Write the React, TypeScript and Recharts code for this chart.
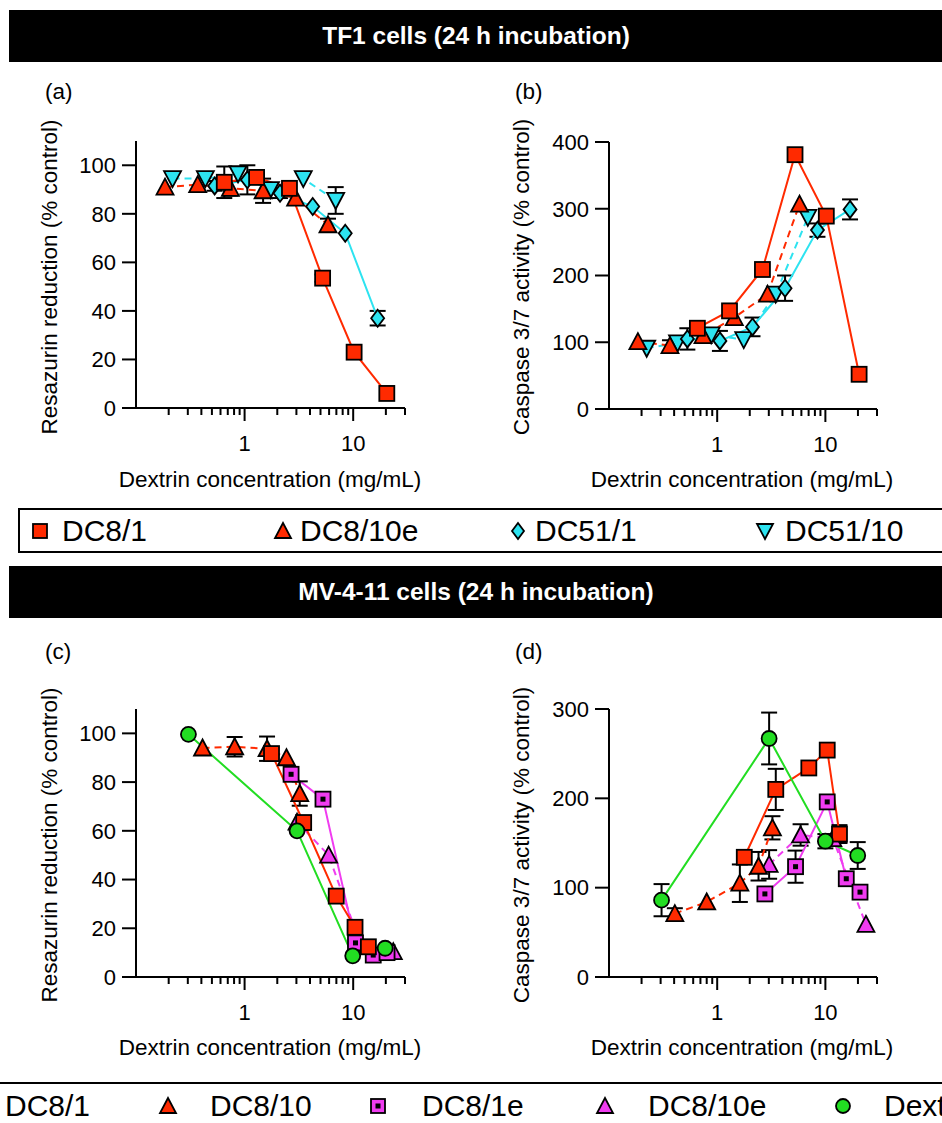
import React from 'react';
import { LineChart, Line, XAxis, YAxis, ErrorBar } from 'recharts';

// ---- colours & fonts ----
const RED = '#FF2A00';
const CYAN = '#2DE3F0';
const MAGENTA = '#F03CF0';
const GREEN = '#22DD22';
const FONT = '"Liberation Sans", Arial, sans-serif';

// ---- axes ----
const X_TICKS = [0.2, 0.3, 0.4, 0.5, 0.6, 0.7, 0.8, 0.9, 1, 2, 3, 4, 5, 6, 7, 8, 9, 10, 20, 30];
const X_MAJOR = [1, 10];
const Y_TICKS_RES = [0, 20, 40, 60, 80, 100];
const Y_TICKS_CASP_TF1 = [0, 100, 200, 300, 400];
const Y_TICKS_CASP_MV = [0, 100, 200, 300];

// ---- (a) TF1 resazurin ----
const A_DC8_1_X = [0.65, 1.29, 2.59, 5.23, 10.2, 20.4];
const A_DC8_1_Y = [93, 95, 90.5, 53.5, 23, 6];
const A_DC8_1_E = [6.5, 0, 0, 1.5, 0, 0];
const A_DC8_10E_X = [0.185, 0.37, 0.74, 1.48, 2.95, 5.86];
const A_DC8_10E_Y = [91, 92, 90.5, 89.5, 86.5, 75.5];
const A_DC8_10E_E = [0, 0, 3, 5, 0, 2.5];
const A_DC51_1_X = [0.53, 1.06, 2.12, 4.24, 8.45, 16.8];
const A_DC51_1_Y = [91.5, 94, 88.5, 83, 72, 37];
const A_DC51_1_E = [2, 6, 2, 0, 0, 3];
const A_DC51_10_X = [0.217, 0.435, 0.87, 1.73, 3.47, 6.9];
const A_DC51_10_Y = [94.5, 94.5, 96.5, 90, 94.5, 85.5];
const A_DC51_10_E = [0, 0, 0, 0, 0, 5.5];

// ---- (b) TF1 caspase ----
const B_DC8_1_X = [0.656, 1.3, 2.62, 5.24, 10.2, 20.5];
const B_DC8_1_Y = [121, 147, 209, 381, 289, 52];
const B_DC8_1_E = [0, 0, 0, 0, 0, 0];
const B_DC8_10E_X = [0.185, 0.366, 0.74, 1.44, 2.92, 5.77];
const B_DC8_10E_Y = [101, 95, 110, 137, 172, 307];
const B_DC8_10E_E = [0, 8, 0, 0, 0, 0];
const B_DC51_1_X = [0.53, 1.06, 2.12, 4.24, 8.45, 16.9];
const B_DC51_1_Y = [105, 102, 123, 181, 268, 299];
const B_DC51_1_E = [16, 15, 14, 19, 10, 15];
const B_DC51_10_X = [0.223, 0.43, 0.88, 1.76, 3.47, 6.88];
const B_DC51_10_Y = [91, 99, 111, 104, 172, 287];
const B_DC51_10_E = [0, 0, 0, 0, 0, 0];

// ---- (c) MV-4-11 resazurin ----
const C_DEX_X = [0.304, 3.04, 9.9, 19.7];
const C_DEX_Y = [99.6, 60, 8.7, 11.8];
const C_DEX_E = [0, 0, 0, 0];
const C_DC8_1_X = [1.77, 3.5, 6.98, 10.4, 13.8];
const C_DC8_1_Y = [91.7, 63.4, 33.2, 20.4, 12.4];
const C_DC8_1_E = [0, 0, 0, 0, 0];
const C_DC8_10_X = [0.41, 0.81, 1.61, 2.43, 3.22];
const C_DC8_10_Y = [94, 94.5, 93.7, 90, 75.3];
const C_DC8_10_E = [0, 4, 5, 0, 5];
const C_DC8_1E_X = [2.68, 5.27, 10.5, 15.3, 20.5];
const C_DC8_1E_Y = [83.2, 73, 14, 9, 10];
const C_DC8_1E_E = [0, 0, 0, 0, 0];
const C_DC8_10E_X = [3.04, 5.94, 11.6, 23.4];
const C_DC8_10E_Y = [63.6, 50, 13.8, 10.4];
const C_DC8_10E_E = [0, 0, 0, 0];

// ---- (d) MV-4-11 caspase ----
const D_DEX_X = [0.306, 3.02, 10, 19.9];
const D_DEX_Y = [86, 267, 152, 136];
const D_DEX_E = [18, 29, 8, 15];
const D_DC8_1_X = [1.78, 3.48, 7.03, 10.4, 13.5];
const D_DC8_1_Y = [134, 210, 234, 254, 160];
const D_DC8_1_E = [0, 23, 0, 0, 10];
const D_DC8_10_X = [0.406, 0.8, 1.62, 2.41, 3.24];
const D_DC8_10_Y = [71, 84, 105, 124, 167];
const D_DC8_10_E = [6, 0, 21, 16, 13];
const D_DC8_1E_X = [2.76, 5.3, 10.4, 15.6, 20.9];
const D_DC8_1E_Y = [93, 123.5, 196, 110, 95];
const D_DC8_1E_E = [0, 18, 0, 0, 0];
const D_DC8_10E_X = [3.02, 5.9, 11.7, 23.7];
const D_DC8_10E_Y = [126, 159, 155, 59];
const D_DC8_10E_E = [16, 12, 0, 0];

// ---- legends ----
const LEGEND_TF1 = ['DC8/1', 'DC8/10e', 'DC51/1', 'DC51/10'];
const LEGEND_MV = ['DC8/1', 'DC8/10', 'DC8/1e', 'DC8/10e', 'Dextrin'];

type Shape = 'square' | 'squareDot' | 'triangle' | 'triangleDown' | 'diamond' | 'circle';

interface Series {
  name: string;
  shape: Shape;
  color: string;
  dashed?: boolean;
  data: { x: number; y: number; e?: number }[];
}

function pts(xs: number[], ys: number[], es: number[]) {
  return xs.map((x, i) => ({ x, y: ys[i], e: es[i] ? es[i] : undefined }));
}

function Marker({ cx, cy, shape, color, size = 15 }: { cx: number; cy: number; shape: Shape; color: string; size?: number }) {
  const h = size / 2;
  const sw = 1.8;
  switch (shape) {
    case 'square':
      return <rect x={cx - h} y={cy - h} width={size} height={size} fill={color} stroke="#000" strokeWidth={sw} />;
    case 'squareDot':
      return (
        <g>
          <rect x={cx - h} y={cy - h} width={size} height={size} fill={color} stroke="#000" strokeWidth={sw} />
          <rect x={cx - 2.5} y={cy - 2.5} width={5} height={5} fill="#000" />
        </g>
      );
    case 'triangle':
      return <polygon points={`${cx},${cy - h - 1} ${cx + h + 1},${cy + h} ${cx - h - 1},${cy + h}`} fill={color} stroke="#000" strokeWidth={sw} />;
    case 'triangleDown':
      return <polygon points={`${cx},${cy + h + 1} ${cx + h + 1},${cy - h} ${cx - h - 1},${cy - h}`} fill={color} stroke="#000" strokeWidth={sw} />;
    case 'diamond':
      return <polygon points={`${cx},${cy - h - 1} ${cx + h - 1},${cy} ${cx},${cy + h + 1} ${cx - h + 1},${cy}`} fill={color} stroke="#000" strokeWidth={sw} />;
    default:
      return <circle cx={cx} cy={cy} r={h} fill={color} stroke="#000" strokeWidth={sw} />;
  }
}

const XTick = (p: any) => {
  const v = p.payload.value;
  const major = X_MAJOR.includes(v);
  return (
    <g>
      <line x1={p.x} x2={p.x} y1={p.y} y2={p.y + (major ? 13 : 7)} stroke="#000" strokeWidth={2} />
      {major && (
        <text x={p.x} y={p.y + 35} textAnchor="middle" dominantBaseline="central" fontSize={22} fontFamily={FONT} fill="#000">
          {v}
        </text>
      )}
    </g>
  );
};

function Panel({ left, top, width, height, marginTop, yWidth, yDomain, yTicks, series }: {
  left: number; top: number; width: number; height: number; marginTop: number; yWidth: number;
  yDomain: [number, number]; yTicks: number[]; series: Series[];
}) {
  return (
    <div style={{ position: 'absolute', left, top }}>
      <LineChart width={width} height={height} margin={{ top: marginTop, right: 25, left: 0, bottom: 0 }}>
        <XAxis
          type="number"
          dataKey="x"
          scale="log"
          domain={[0.1, 30]}
          ticks={X_TICKS}
          interval={0}
          height={60}
          tickSize={0}
          tickMargin={0}
          tickLine={false}
          tick={XTick}
          axisLine={{ stroke: '#000', strokeWidth: 2 }}
        />
        <YAxis
          type="number"
          domain={yDomain}
          ticks={yTicks}
          interval={0}
          width={yWidth}
          tickSize={14}
          tickMargin={6}
          tickLine={{ stroke: '#000', strokeWidth: 2 }}
          axisLine={{ stroke: '#000', strokeWidth: 2 }}
          tick={{ fill: '#000', fontSize: 22, fontFamily: FONT }}
        />
        {series.map((s) => (
          <Line
            key={s.name}
            data={s.data}
            dataKey="y"
            type="linear"
            stroke={s.color}
            strokeWidth={2}
            strokeDasharray={s.dashed ? '7 5' : undefined}
            dot={(p: any) => <Marker key={`${s.name}-${p.index}`} cx={p.cx} cy={p.cy} shape={s.shape} color={s.color} />}
            activeDot={false}
            isAnimationActive={false}
          >
            <ErrorBar dataKey="e" width={8} stroke="#000" strokeWidth={2} direction="y" />
          </Line>
        ))}
      </LineChart>
    </div>
  );
}

function Txt({ x, y, size = 22.5, anchor = 'start', rotate = false, bold = false, color = '#000', children }: any) {
  const tx = anchor === 'middle' ? '-50%' : anchor === 'end' ? '-100%' : '0';
  return (
    <div
      style={{
        position: 'absolute',
        left: x,
        top: y,
        fontSize: size,
        lineHeight: `${size}px`,
        fontWeight: bold ? 700 : 400,
        color,
        whiteSpace: 'nowrap',
        transform: rotate ? 'translate(-50%,-50%) rotate(-90deg)' : `translate(${tx},-50%)`,
      }}
    >
      {children}
    </div>
  );
}

function LegendMarker({ x, y, shape, color }: { x: number; y: number; shape: Shape; color: string }) {
  return (
    <svg style={{ position: 'absolute', left: x - 11, top: y - 11 }} width={22} height={22}>
      <Marker cx={11} cy={11} shape={shape} color={color} size={14} />
    </svg>
  );
}

export default function App() {
  const seriesA: Series[] = [
    { name: 'DC51/10', shape: 'triangleDown', color: CYAN, dashed: true, data: pts(A_DC51_10_X, A_DC51_10_Y, A_DC51_10_E) },
    { name: 'DC51/1', shape: 'diamond', color: CYAN, data: pts(A_DC51_1_X, A_DC51_1_Y, A_DC51_1_E) },
    { name: 'DC8/10e', shape: 'triangle', color: RED, dashed: true, data: pts(A_DC8_10E_X, A_DC8_10E_Y, A_DC8_10E_E) },
    { name: 'DC8/1', shape: 'square', color: RED, data: pts(A_DC8_1_X, A_DC8_1_Y, A_DC8_1_E) },
  ];
  const seriesB: Series[] = [
    { name: 'DC51/10', shape: 'triangleDown', color: CYAN, dashed: true, data: pts(B_DC51_10_X, B_DC51_10_Y, B_DC51_10_E) },
    { name: 'DC51/1', shape: 'diamond', color: CYAN, data: pts(B_DC51_1_X, B_DC51_1_Y, B_DC51_1_E) },
    { name: 'DC8/10e', shape: 'triangle', color: RED, dashed: true, data: pts(B_DC8_10E_X, B_DC8_10E_Y, B_DC8_10E_E) },
    { name: 'DC8/1', shape: 'square', color: RED, data: pts(B_DC8_1_X, B_DC8_1_Y, B_DC8_1_E) },
  ];
  const seriesC: Series[] = [
    { name: 'DC8/10e', shape: 'triangle', color: MAGENTA, dashed: true, data: pts(C_DC8_10E_X, C_DC8_10E_Y, C_DC8_10E_E) },
    { name: 'DC8/1e', shape: 'squareDot', color: MAGENTA, data: pts(C_DC8_1E_X, C_DC8_1E_Y, C_DC8_1E_E) },
    { name: 'DC8/10', shape: 'triangle', color: RED, dashed: true, data: pts(C_DC8_10_X, C_DC8_10_Y, C_DC8_10_E) },
    { name: 'DC8/1', shape: 'square', color: RED, data: pts(C_DC8_1_X, C_DC8_1_Y, C_DC8_1_E) },
    { name: 'Dextrin', shape: 'circle', color: GREEN, data: pts(C_DEX_X, C_DEX_Y, C_DEX_E) },
  ];
  const seriesD: Series[] = [
    { name: 'DC8/10e', shape: 'triangle', color: MAGENTA, dashed: true, data: pts(D_DC8_10E_X, D_DC8_10E_Y, D_DC8_10E_E) },
    { name: 'DC8/1e', shape: 'squareDot', color: MAGENTA, data: pts(D_DC8_1E_X, D_DC8_1E_Y, D_DC8_1E_E) },
    { name: 'DC8/10', shape: 'triangle', color: RED, dashed: true, data: pts(D_DC8_10_X, D_DC8_10_Y, D_DC8_10_E) },
    { name: 'DC8/1', shape: 'square', color: RED, data: pts(D_DC8_1_X, D_DC8_1_Y, D_DC8_1_E) },
    { name: 'Dextrin', shape: 'circle', color: GREEN, data: pts(D_DEX_X, D_DEX_Y, D_DEX_E) },
  ];

  const tf1Shapes: Shape[] = ['square', 'triangle', 'diamond', 'triangleDown'];
  const tf1Colors = [RED, RED, CYAN, CYAN];
  const tf1MarkX = [40, 283, 518, 765];
  const tf1TextX = [62, 300, 535, 785];
  const mvShapes: Shape[] = ['square', 'triangle', 'squareDot', 'triangle', 'circle'];
  const mvColors = [RED, RED, MAGENTA, MAGENTA, GREEN];
  const mvMarkX = [-35, 168, 378, 605, 843];
  const mvTextX = [5, 210, 422, 648, 884];

  return (
    <div style={{ position: 'absolute', left: 0, top: 0, width: 942, height: 1123, overflow: 'hidden', background: '#fff', fontFamily: FONT }}>
      {/* header TF1 */}
      <div style={{ position: 'absolute', left: 9, top: 10, width: 940, height: 52, background: '#000' }} />
      <Txt x={476} y={36} size={24.5} anchor="middle" bold color="#fff">TF1 cells (24 h incubation)</Txt>

      <Txt x={45} y={92}>(a)</Txt>
      <Txt x={515} y={92}>(b)</Txt>

      <Panel left={0} top={0} width={430} height={468} marginTop={141} yWidth={136} yDomain={[0, 110]} yTicks={Y_TICKS_RES} series={seriesA} />
      <Panel left={470} top={0} width={432} height={469} marginTop={142} yWidth={139} yDomain={[0, 400]} yTicks={Y_TICKS_CASP_TF1} series={seriesB} />

      <Txt x={50} y={277} rotate>Resazurin reduction (% control)</Txt>
      <Txt x={522} y={277} rotate>Caspase 3/7 activity (% control)</Txt>
      <Txt x={270} y={480} anchor="middle">Dextrin concentration (mg/mL)</Txt>
      <Txt x={742} y={480} anchor="middle">Dextrin concentration (mg/mL)</Txt>

      {/* legend TF1 */}
      <div style={{ position: 'absolute', left: 18, top: 508, width: 940, height: 45, border: '2px solid #000', boxSizing: 'border-box' }} />
      {LEGEND_TF1.map((t, i) => (
        <React.Fragment key={t}>
          <LegendMarker x={tf1MarkX[i]} y={531} shape={tf1Shapes[i]} color={tf1Colors[i]} />
          <Txt x={tf1TextX[i]} y={531} size={30}>{t}</Txt>
        </React.Fragment>
      ))}

      {/* header MV-4-11 */}
      <div style={{ position: 'absolute', left: 9, top: 566, width: 940, height: 52, background: '#000' }} />
      <Txt x={476} y={592} size={24.5} anchor="middle" bold color="#fff">MV-4-11 cells (24 h incubation)</Txt>

      <Txt x={45} y={652}>(c)</Txt>
      <Txt x={515} y={652}>(d)</Txt>

      <Panel left={0} top={560} width={430} height={477} marginTop={149} yWidth={136} yDomain={[0, 110]} yTicks={Y_TICKS_RES} series={seriesC} />
      <Panel left={470} top={560} width={432} height={477} marginTop={149} yWidth={139} yDomain={[0, 300]} yTicks={Y_TICKS_CASP_MV} series={seriesD} />

      <Txt x={50} y={845} rotate>Resazurin reduction (% control)</Txt>
      <Txt x={522} y={845} rotate>Caspase 3/7 activity (% control)</Txt>
      <Txt x={270} y={1048} anchor="middle">Dextrin concentration (mg/mL)</Txt>
      <Txt x={742} y={1048} anchor="middle">Dextrin concentration (mg/mL)</Txt>

      {/* legend MV-4-11 */}
      <div style={{ position: 'absolute', left: 0, top: 1082, width: 942, height: 2, background: '#000' }} />
      {LEGEND_MV.map((t, i) => (
        <React.Fragment key={t}>
          <LegendMarker x={mvMarkX[i]} y={1106} shape={mvShapes[i]} color={mvColors[i]} />
          <Txt x={mvTextX[i]} y={1106} size={30}>{t}</Txt>
        </React.Fragment>
      ))}
    </div>
  );
}
